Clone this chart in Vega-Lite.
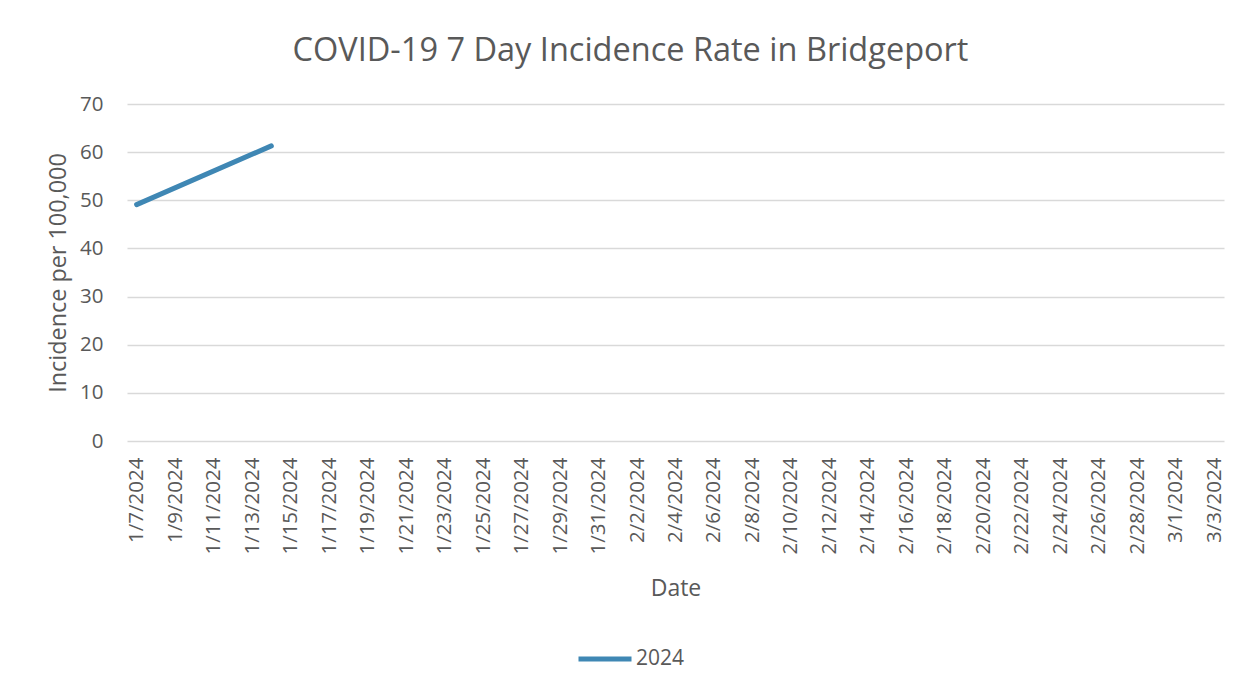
{
  "$schema": "https://vega.github.io/schema/vega-lite/v6.json",
  "autosize": {"type": "none"},
  "width": 1097,
  "height": 337,
  "padding": {"left": 127, "top": 104, "right": 27, "bottom": 250},
  "background": "white",
  "title": {
    "text": "COVID-19 7 Day Incidence Rate in Bridgeport",
    "anchor": "middle",
    "dx": -45,
    "offset": 27,
    "fontSize": 32.5,
    "font": "Open Sans",
    "fontWeight": "normal",
    "color": "#595959"
  },
  "data": {
    "values": [
      {"date": "2024-01-07", "rate": 49.1, "series": "2024"},
      {"date": "2024-01-14", "rate": 61.3, "series": "2024"}
    ]
  },
  "mark": {"type": "line", "strokeWidth": 5, "strokeCap": "round"},
  "encoding": {
    "x": {
      "field": "date",
      "type": "temporal",
      "title": "Date",
      "scale": {"type": "utc", "domain": [{"year": 2024, "month": 1, "date": 6, "hours": 12, "utc": true}, {"year": 2024, "month": 3, "date": 3, "hours": 12, "utc": true}]},
      "axis": {
        "format": "%-m/%-d/%Y",
        "labelAngle": -90,
        "labelPadding": 16,
        "ticks": false,
        "domain": false,
        "grid": false,
        "labelOverlap": false,
        "labelFontSize": 20.5,
        "titleFontSize": 23,
        "titlePadding": 23,
        "values": [
          {"year": 2024, "month": 1, "date": 7, "utc": true},
          {"year": 2024, "month": 1, "date": 9, "utc": true},
          {"year": 2024, "month": 1, "date": 11, "utc": true},
          {"year": 2024, "month": 1, "date": 13, "utc": true},
          {"year": 2024, "month": 1, "date": 15, "utc": true},
          {"year": 2024, "month": 1, "date": 17, "utc": true},
          {"year": 2024, "month": 1, "date": 19, "utc": true},
          {"year": 2024, "month": 1, "date": 21, "utc": true},
          {"year": 2024, "month": 1, "date": 23, "utc": true},
          {"year": 2024, "month": 1, "date": 25, "utc": true},
          {"year": 2024, "month": 1, "date": 27, "utc": true},
          {"year": 2024, "month": 1, "date": 29, "utc": true},
          {"year": 2024, "month": 1, "date": 31, "utc": true},
          {"year": 2024, "month": 2, "date": 2, "utc": true},
          {"year": 2024, "month": 2, "date": 4, "utc": true},
          {"year": 2024, "month": 2, "date": 6, "utc": true},
          {"year": 2024, "month": 2, "date": 8, "utc": true},
          {"year": 2024, "month": 2, "date": 10, "utc": true},
          {"year": 2024, "month": 2, "date": 12, "utc": true},
          {"year": 2024, "month": 2, "date": 14, "utc": true},
          {"year": 2024, "month": 2, "date": 16, "utc": true},
          {"year": 2024, "month": 2, "date": 18, "utc": true},
          {"year": 2024, "month": 2, "date": 20, "utc": true},
          {"year": 2024, "month": 2, "date": 22, "utc": true},
          {"year": 2024, "month": 2, "date": 24, "utc": true},
          {"year": 2024, "month": 2, "date": 26, "utc": true},
          {"year": 2024, "month": 2, "date": 28, "utc": true},
          {"year": 2024, "month": 3, "date": 1, "utc": true},
          {"year": 2024, "month": 3, "date": 3, "utc": true}
        ]
      }
    },
    "y": {
      "field": "rate",
      "type": "quantitative",
      "title": "Incidence per 100,000",
      "scale": {"domain": [0, 70], "nice": false},
      "axis": {
        "values": [0, 10, 20, 30, 40, 50, 60, 70],
        "ticks": false,
        "domain": false,
        "labelPadding": 24,
        "labelFontSize": 20.5,
        "titleFontSize": 23.4,
        "titlePadding": 9,
        "gridColor": "#D9D9D9",
        "gridWidth": 1.3
      }
    },
    "color": {
      "field": "series",
      "type": "nominal",
      "scale": {"range": ["#3F87B4"]},
      "legend": {
        "title": null,
        "orient": "none",
        "legendX": 449,
        "legendY": 526,
        "symbolType": "stroke",
        "symbolSize": 2809,
        "symbolStrokeWidth": 5,
        "labelFontSize": 21,
        "labelOffset": 2
      }
    }
  },
  "config": {
    "font": "Open Sans",
    "view": {"stroke": null},
    "axis": {
      "labelColor": "#595959",
      "titleColor": "#595959",
      "labelFont": "Open Sans",
      "titleFont": "Open Sans",
      "titleFontWeight": "normal"
    },
    "legend": {"labelColor": "#595959", "labelFont": "Open Sans"}
  }
}
